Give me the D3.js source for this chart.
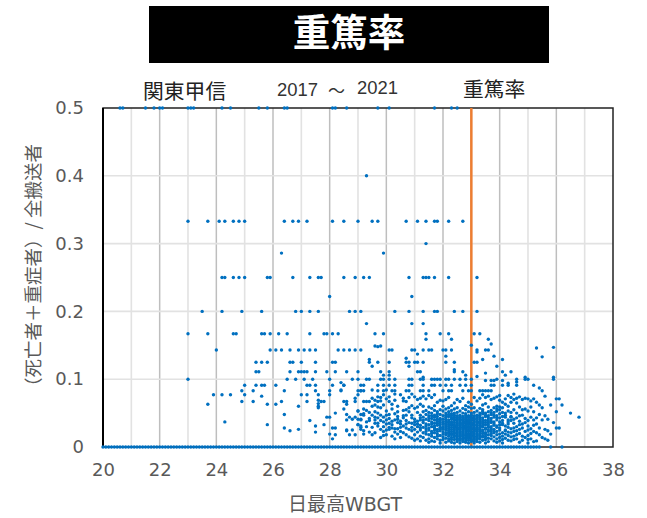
<!DOCTYPE html>
<html><head><meta charset="utf-8">
<script src="https://cdn.jsdelivr.net/npm/d3@7"></script>
<style>html,body{margin:0;padding:0;background:#fff}svg{display:block}</style>
</head><body><svg id="c" width="647" height="518"></svg>
<script>
const titleText = "重篤率", regionText = "関東甲信", seriesText = "重篤率";
const yearText = ["2017", "～", "2021"];
const xLabel = "日最高WBGT", yLabel = "（死亡者＋重症者）/ 全搬送者";
const xTicks = [20,22,24,26,28,30,32,34,36,38];
const xMinor = [21,23,25,27,29,31,33,35,37];
const yTicks = [0,0.1,0.2,0.3,0.4,0.5];
const threshold = 33;

// x values of days on the repeated ratio rows
const at0500 = [20.6,20.7,21.5,21.8,22.0,22.1,23.0,23.1,23.2,24.2,24.5,25.5,25.8,26.4,26.5,28.1,28.2,28.6,29.7,30.1,31.7,32.3,32.5];
const at0400 = [29.3];
const at0333 = [23.0,23.7,24.1,24.3,24.6,24.8,25.0,26.4,26.7,26.9,27.2,28.1,28.5,29.0,29.5,29.7,30.7,31.1,31.4,31.7,31.8,32.2,32.7];
const at0300 = [31.4];
const at0286 = [26.3,29.9];
const at0250 = [24.2,24.3,24.6,24.8,25.0,25.8,25.9,26.7,27.3,27.6,27.7,28.5,28.9,29.2,29.4,30.8,31.3,31.4,31.5,31.7,32.2,33.2];
const at0222 = [28.0,30.9];
const at0200 = [23.5,24.2,24.9,25.6,26.8,27.0,27.3,27.6,28.7,28.9,29.1,30.3,30.8,31.3,31.7,31.8,32.4,32.7,33.2];
const at0182 = [29.3,30.9,31.3];
const at0167 = [23.0,23.7,24.6,24.7,25.6,25.7,25.9,26.2,26.5,27.3,27.8,27.9,28.1,28.3,29.6,29.9,31.4,31.9,32.2,33.1,33.3];
const at0143 = [24.0,25.9,26.1,26.3,26.6,26.9,27.1,27.3,27.5,28.3,28.5,28.7,28.9,29.1,30.1,30.2,30.9,31.0,31.3,31.5,31.6,32.0,32.1,32.3,33.2,33.5,33.6];
const at0125 = [25.4,25.6,25.8,26.6,26.7,27.0,27.5,28.1,28.2,29.4,29.7,30.1,30.7,30.8,31.0,31.1,31.3,32.1,32.4,33.1,33.2];
const at0111 = [25.4,25.5,26.6,26.9,27.0,27.1,27.2,27.5,27.9,28.2,28.6,29.0,29.8,30.1,31.1,31.2,32.4,32.7,34.1,34.4];
const at0100 = [23.0,26.5,26.8,27.1,27.4,28.0,28.8,29.0,29.3,29.4,29.8,29.9,30.1,30.3,30.8,30.9,31.2,31.3,31.6,31.7,31.8,31.9,32.1,32.2,32.4,32.6,32.8,33.0,33.9,34.6,34.9,35.0,35.9];
const at0091 = [25.0,25.4,25.6,25.7,26.1,27.2,27.3,27.5,28.1,28.5,29.1,29.2,29.7,29.9,30.1,30.3,30.8,30.9,31.3,31.6,31.7,31.9,32.1,32.3,32.6,32.8,33.0,33.7,33.8,34.1,34.3,34.6,35.2];
const at0083 = [24.9,25.3,26.4,27.5,28.0,28.4,29.1,29.2,29.7,29.9,30.2,30.3,30.7,30.8,31.2,31.3,31.5,32.0,32.2,32.3,32.7,32.9,33.0,33.3,33.4,33.5,33.6,33.7,35.5];
const at0000 = [20.0,20.1,20.2,20.3,20.4,20.5,20.6,20.7,20.8,20.9,21.0,21.1,21.2,21.3,21.4,21.5,21.6,21.7,21.8,21.9,22.0,22.1,22.2,22.3,22.4,22.5,22.6,22.7,22.8,22.9,23.0,23.1,23.2,23.3,23.4,23.5,23.6,23.7,23.8,23.9,24.0,24.1,24.2,24.3,24.4,24.5,24.6,24.7,24.8,24.9,25.0,25.1,25.2,25.3,25.4,25.5,25.6,25.7,25.8,25.9,26.0,26.1,26.2,26.3,26.4,26.5,26.6,26.7,26.8,26.9,27.0,27.1,27.2,27.3,27.4,27.5,27.6,27.7,27.8,27.9,28.0,28.1,28.2,28.3,28.4,28.5,28.6,28.7,28.8,28.9,29.0,29.1,29.2,29.3,29.4,29.5,29.6,29.7,29.8,29.9,30.0,30.1,30.2,30.3,30.4,30.5,30.6,30.7,30.8,30.9,31.0,31.1,31.2,31.3,31.4,31.5,31.6,31.7,31.8,31.9,32.0,32.1,32.2,32.3,32.4,32.5,32.6,32.7,32.8,32.9,33.0,33.1,33.2,33.3,33.4,33.5,33.6,33.7,33.8,33.9,34.0,34.1,34.2,34.3,34.4,34.5,34.6,34.7,34.8,34.9,35.0,35.1,35.2,35.3,35.4,35.8,36.2];

const rowValues = [0.5,0.4,0.333,0.3,0.286,0.25,0.222,0.2,0.182,0.167,0.143,0.125,0.111,0.1,0.091,0.083,0];
const rowXs = [at0500,at0400,at0333,at0300,at0286,at0250,at0222,at0200,at0182,at0167,at0143,at0125,at0111,at0100,at0091,at0083,at0000];

// scattered days, left of the dense cloud
const looseX = [23.9,24.2,24.5,25.0,27.0,27.2,27.6,28.0,29.0,25.6,27.6,24.9,25.3,27.2,27.7,27.8,28.5,28.6,28.9,26.3,23.7,25.8,26.1,28.6,26.9,27.6,28.5,29.0,26.4,28.6,29.2,27.9,28.0,28.2,28.9,28.8,28.6,29.1,27.3,24.3,25.8,27.8,29.0,27.5,29.1,26.4,28.1,28.2,26.9,26.6,28.6,29.2,27.5,28.0,28.9,28.2,28.1,28.4,28.4,28.5,28.7,28.8,28.7,28.6,28.9,27.6,27.6];
const looseY = [.077,.077,.077,.077,.077,.077,.077,.077,.077,.075,.069,.067,.067,.067,.067,.067,.067,.067,.067,.067,.063,.063,.063,.063,.060,.060,.056,.053,.048,.048,.049,.044,.044,.050,.044,.041,.040,.041,.039,.037,.033,.033,.033,.031,.031,.028,.028,.028,.026,.024,.024,.024,.022,.019,.018,.018,.012,.095,.084,.091,.044,.025,.018,.025,.072,.058,.064];

// dense cloud, one list of ratios for each WBGT value
const cloudX = [29.0,29.1,29.2,29.3,29.4,29.5,29.6,29.7,29.8,29.9,30.0,30.1,30.2,30.3,30.4,30.5,30.6,30.7,30.8,30.9,31.0,31.1,31.2,31.3,31.4,31.5,31.6,31.7,31.8,31.9,32.0,32.1,32.2,32.3,32.4,32.5,32.6,32.7,32.8,32.9,33.0,33.1,33.2,33.3,33.4,33.5,33.6,33.7,33.8,33.9,34.0,34.1,34.2,34.3,34.4,34.5,34.6,34.7,34.8,34.9,35.0,35.1,35.2,35.3,35.4,35.5,35.6,35.7,35.8,35.9,36.0,36.1,36.2,36.5,36.8];
const cloudY = [
[.053,.033,.083,.041],
[.040,.029,.026,.083,.048],
[.047,.067,.056,.019],
[.054,.030,.067,.037],
[.051,.042,.039,.067,.129,.022],
[.072,.060,.029,.018,.084,.119,.047],
[.069,.062,.052,.044,.040,.035,.021,.149],
[.067,.059,.050,.043,.035,.031,.148,.074],
[.047,.039,.073,.026,.014,.058,.149,.068],
[.077,.037,.030,.023,.106,.062,.044,.017],
[.071,.053,.040,.025,.034,.018,.084,.047],
[.106,.067,.048,.029,.035,.026,.074,.042],
[.063,.056,.033,.028,.016,.038],
[.078,.069,.049,.040,.022,.012,.027],
[.060,.052,.036,.027,.019,.041,.045],
[.077,.038,.029,.023,.014,.034],
[.072,.054,.046,.031,.021,.068,.043],
[.131,.067,.055,.047,.039,.028,.018,.034],
[.119,.073,.052,.036,.026,.015,.058],
[.078,.061,.043,.035,.024,.013,.029,.047],
[.074,.057,.041,.033,.026,.018,.010,.037],
[.137,.070,.059,.051,.038,.030,.022,.012,.034],
[.072,.063,.047,.040,.032,.025,.016,.009,.043,.028],
[.103,.075,.060,.044,.036,.029,.021,.014,.039,.052],
[.159,.071,.054,.048,.041,.034,.027,.019,.010,.031,.023],
[.076,.059,.051,.046,.039,.033,.025,.018,.012,.007,.028,.043],
[.073,.057,.050,.042,.037,.030,.023,.016,.009,.046,.034,.020],
[.077,.061,.054,.047,.040,.035,.028,.021,.014,.008,.044,.031,.025],
[.066,.052,.045,.038,.032,.026,.019,.012,.049,.035,.023,.016,.041],
[.069,.055,.048,.042,.036,.029,.024,.017,.010,.006,.039,.027,.033],
[.068,.060,.053,.046,.041,.034,.030,.022,.015,.011,.037,.026,.019,.028],
[.134,.070,.056,.050,.044,.038,.031,.025,.018,.013,.007,.047,.035,.028,.021,.033,.041],
[.073,.058,.052,.045,.040,.033,.027,.021,.016,.009,.048,.036,.030,.024,.012,.019,.037],
[.159,.061,.054,.049,.043,.037,.032,.026,.020,.014,.007,.041,.034,.023,.018,.029,.046,.011],
[.114,.065,.056,.050,.044,.039,.033,.028,.022,.017,.011,.006,.047,.036,.030,.025,.015,.041,.020,.031],
[.070,.058,.051,.046,.040,.035,.029,.024,.019,.013,.008,.042,.032,.027,.021,.016,.037,.044,.026,.011],
[.067,.053,.047,.041,.037,.031,.026,.021,.015,.010,.006,.044,.034,.028,.023,.018,.012,.039,.029,.033,.017],
[.072,.057,.050,.045,.039,.033,.029,.024,.018,.013,.008,.043,.036,.027,.022,.016,.011,.041,.031,.020,.035],
[.106,.061,.055,.049,.043,.038,.032,.027,.022,.017,.012,.007,.041,.035,.030,.025,.019,.014,.046,.037,.029,.009],
[.066,.059,.052,.046,.041,.035,.030,.025,.020,.015,.010,.006,.044,.037,.028,.023,.018,.013,.033,.039,.016],
[.150,.063,.057,.050,.044,.039,.033,.028,.023,.017,.012,.008,.042,.036,.031,.026,.021,.015,.047,.034,.019,.010],
[.073,.058,.051,.046,.040,.034,.029,.024,.019,.014,.009,.006,.043,.037,.027,.022,.016,.011,.032,.041,.026],
[.140,.104,.068,.053,.047,.042,.036,.031,.026,.020,.016,.011,.045,.033,.028,.023,.018,.013,.038,.008,.024],
[.072,.057,.050,.044,.038,.032,.027,.022,.017,.012,.007,.047,.041,.035,.029,.019,.014,.025,.036],
[.129,.077,.062,.055,.049,.043,.037,.030,.025,.020,.015,.010,.052,.040,.034,.023,.016,.031],
[.109,.098,.073,.064,.050,.045,.039,.033,.028,.021,.016,.011,.006,.047,.036,.026,.019,.013],
[.159,.075,.059,.052,.046,.040,.034,.029,.023,.018,.013,.008,.043,.031,.025,.037],
[.152,.098,.070,.054,.048,.042,.036,.030,.024,.017,.012,.050,.038,.027,.020],
[.134,.098,.072,.058,.051,.044,.037,.032,.026,.021,.015,.009,.047,.034,.023],
[.119,.074,.060,.053,.046,.040,.029,.023,.018,.012,.056,.043,.031,.007],
[.076,.069,.055,.049,.043,.037,.025,.019,.014,.009,.059,.028,.033],
[.129,.098,.066,.051,.045,.039,.033,.021,.016,.011,.006,.035,.058],
[.106,.071,.063,.050,.044,.031,.025,.019,.013,.047,.024],
[.094,.076,.060,.053,.040,.034,.029,.022,.017,.010,.037],
[.073,.066,.051,.045,.039,.027,.021,.015,.009,.044],
[.078,.070,.055,.041,.035,.028,.023,.016,.011],
[.096,.072,.065,.050,.043,.030,.024,.018,.012],
[.074,.059,.046,.038,.033,.026,.020,.007],
[.070,.055,.047,.034,.028,.016,.010],
[.103,.072,.056,.042,.036,.023,.014],
[.071,.053,.039,.031,.025,.017,.011,.006],
[.068,.059,.044,.027,.020,.012],
[.071,.052,.040,.032,.023,.008],
[.146,.066,.043,.034,.021,.009],
[.087,.062,.048,.028,.018],
[.133,.058,.040,.014],
[.075,.046,.026,.012],
[.041,.024,.010],
[.062,.019],
[.103,.147,.036],
[.071,.052,.028],
[.071,.028],
[.062],
[.050],
[.044]
];

const points = [];
rowXs.forEach((xs, i) => xs.forEach(x => points.push([x, rowValues[i]])));
looseX.forEach((x, i) => points.push([x, looseY[i]]));
cloudX.forEach((x, i) => cloudY[i].forEach(y => points.push([x, y])));

const svg = d3.select("#c");
const inner = {l:103, r:613, t:108, b:447};
const sx = d3.scaleLinear().domain([20,38]).range([inner.l, inner.r]);
const sy = d3.scaleLinear().domain([0,0.5]).range([inner.b, inner.t]);
const latin = "'DejaVu Sans','Noto Sans CJK JP',sans-serif";
const cjk = "'Noto Sans CJK JP',sans-serif";

svg.append("rect").attr("x",149).attr("y",6).attr("width",400).attr("height",57).attr("fill","#000");
svg.append("text").attr("x",349).attr("y",46).attr("text-anchor","middle").attr("fill","#fff")
  .attr("font-family",cjk).attr("font-weight",700).attr("font-size",37.5).text(titleText);

svg.append("text").attr("x",143).attr("y",99).attr("font-family",cjk).attr("font-size",20.8).attr("fill","#222").text(regionText);
svg.append("text").attr("x",463).attr("y",97).attr("font-family",cjk).attr("font-size",20.8).attr("fill","#222").text(seriesText);
svg.append("text").attr("x",277).attr("y",95.5).attr("font-family","'Liberation Sans',sans-serif").attr("font-size",19).attr("fill","#333").attr("textLength",41).attr("lengthAdjust","spacingAndGlyphs").text(yearText[0]);
svg.append("text").attr("x",328).attr("y",97).attr("font-family",cjk).attr("font-size",17).attr("fill","#333").text(yearText[1]);
svg.append("text").attr("x",357).attr("y",94).attr("font-family","'Liberation Sans',sans-serif").attr("font-size",19).attr("fill","#333").attr("textLength",41).attr("lengthAdjust","spacingAndGlyphs").text(yearText[2]);

const grid = svg.append("g").attr("fill","none");
grid.selectAll(".minor").data(xMinor).join("line").attr("x1",d=>sx(d)).attr("x2",d=>sx(d)).attr("y1",inner.t).attr("y2",inner.b).attr("stroke","#E2E2E2").attr("stroke-width",1.6);
grid.selectAll(".major").data(xTicks.slice(1,-1)).join("line").attr("x1",d=>sx(d)).attr("x2",d=>sx(d)).attr("y1",inner.t).attr("y2",inner.b).attr("stroke","#BEBEBE").attr("stroke-width",1.5);
grid.selectAll(".h").data(yTicks.slice(1,-1)).join("line").attr("x1",inner.l).attr("x2",inner.r).attr("y1",d=>sy(d)).attr("y2",d=>sy(d)).attr("stroke","#E2E2E2").attr("stroke-width",1.6);

svg.append("rect").attr("x",inner.l).attr("y",inner.t).attr("width",inner.r-inner.l).attr("height",inner.b-inner.t).attr("fill","none").attr("stroke","#222").attr("stroke-width",1.5);
svg.append("line").attr("x1",inner.l).attr("x2",inner.l).attr("y1",inner.t).attr("y2",inner.b).attr("stroke","#000").attr("stroke-width",2);

svg.append("line").attr("x1",sx(threshold)).attr("x2",sx(threshold)).attr("y1",sy(0.5)).attr("y2",sy(0)).attr("stroke","#ED7D31").attr("stroke-width",2.5);

svg.append("g").selectAll("circle").data(points).join("circle")
  .attr("cx",d=>sx(d[0])).attr("cy",d=>sy(d[1])).attr("r",1.7).attr("fill","#0070C0");

const xAxis = d3.axisBottom(sx).tickValues(xTicks).tickSize(0).tickPadding(16).tickFormat(d3.format("d"));
const yAxis = d3.axisLeft(sy).tickValues(yTicks).tickSize(0).tickPadding(19).tickFormat(d=>d===0?"0":d3.format(".1f")(d));
const gx = svg.append("g").attr("transform",`translate(0,${inner.b})`).call(xAxis);
const gy = svg.append("g").attr("transform",`translate(${inner.l},0)`).call(yAxis);
[gx,gy].forEach(g=>{g.select(".domain").remove();g.selectAll("text").attr("fill","#595959").attr("font-family",latin).attr("font-size",18);});

svg.append("text").attr("x",345).attr("y",511).attr("text-anchor","middle").attr("font-family",latin).attr("font-size",19).attr("fill","#595959").text(xLabel);
svg.append("text").attr("transform","translate(40,270) rotate(-90)").attr("text-anchor","middle").attr("font-family",cjk).attr("font-size",18.5).attr("fill","#595959").text(yLabel);
</script></body></html>
